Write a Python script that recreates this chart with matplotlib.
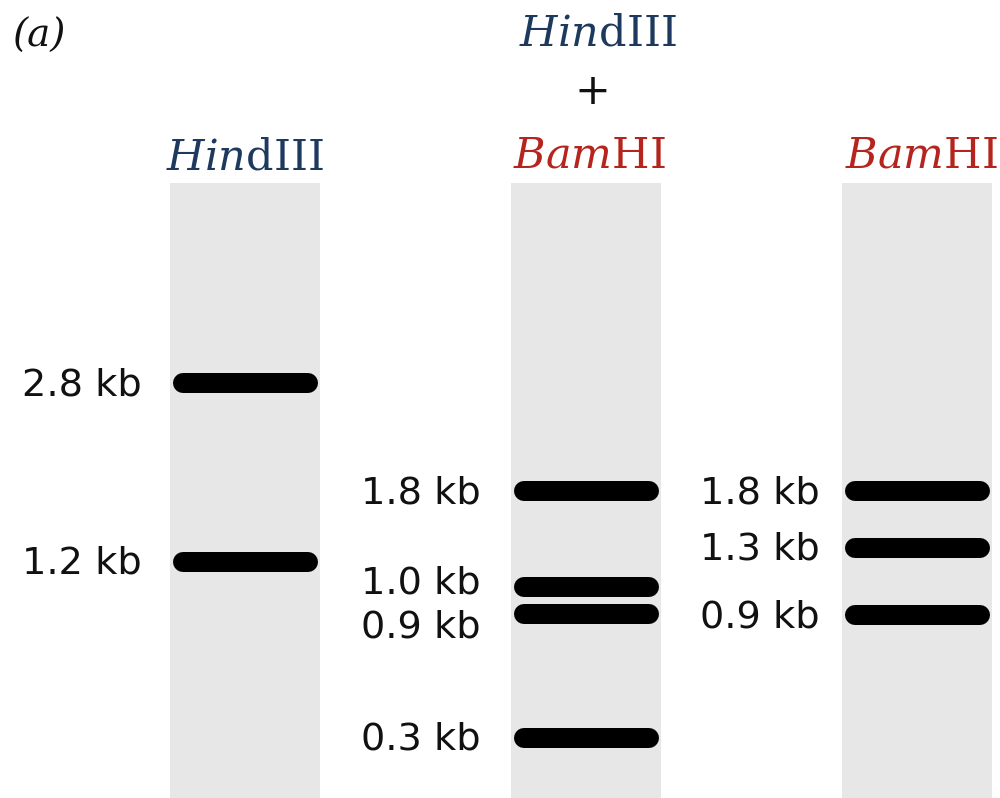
import matplotlib
matplotlib.use("Agg")
import matplotlib.pyplot as plt

# --- Gel data ---
lane_names = ["HindIII", "HindIII + BamHI", "BamHI"]
lane1_sizes = [2.8, 1.2]
lane1_migration = [200, 379]          # px from the well
lane2_sizes = [1.8, 1.0, 0.9, 0.3]
lane2_migration = [308, 404, 431, 555]
lane3_sizes = [1.8, 1.3, 0.9]
lane3_migration = [308, 365, 432]

# --- layout ---
W, H = 1000, 798
well_y = 183
lane_centers = [245, 586, 917]
lane_w = 150
band_lw_px = 20
gel_color = "#e7e7e7"
blue = "#1d3a5e"
red = "#b5251d"
label_gap = [28, 30, 22]
# nudges so that close labels don't overlap
label_nudge = {(1, 1.0): -6, (1, 0.9): 12}

plt.rcParams["mathtext.fontset"] = "dejavuserif"

fig = plt.figure(figsize=(W / 100, H / 100), dpi=100)
ax = fig.add_axes([0, 0, 1, 1])
ax.set_xlim(0, W)
ax.set_ylim(H, 0)
ax.axis("off")

px2pt = 72 / 100
lanes = [(lane1_sizes, lane1_migration), (lane2_sizes, lane2_migration), (lane3_sizes, lane3_migration)]
for i, (sizes, mig) in enumerate(lanes):
    cx = lane_centers[i]
    ax.add_patch(plt.Rectangle((cx - lane_w / 2, well_y), lane_w, H - well_y,
                               color=gel_color, lw=0, zorder=1))
    x0 = cx - lane_w / 2 + 3 + band_lw_px / 2
    x1 = cx + lane_w / 2 - 2 - band_lw_px / 2
    for s, m in zip(sizes, mig):
        y = well_y + m
        ax.plot([x0, x1], [y, y], color="black", lw=band_lw_px * px2pt,
                solid_capstyle="round", zorder=2)
        ly = y + 2 + label_nudge.get((i, s), 0)
        ax.text(cx - lane_w / 2 - label_gap[i], ly, f"{s:.1f} kb", ha="right", va="center",
                fontsize=27.5, family="DejaVu Sans", color="#111111")

hind = r"$\mathit{Hin}$dIII"
bam = r"$\mathit{Bam}$HI"
tkw = dict(ha="center", va="baseline", fontsize=31, family="DejaVu Serif")
ax.text(lane_centers[0], 170, hind, color=blue, **tkw)
ax.text(lane_centers[1] + 12, 45, hind, color=blue, **tkw)
ax.text(lane_centers[1] + 6, 92, "+", ha="center", va="center", fontsize=31,
        family="DejaVu Sans", color="#111111")
ax.text(lane_centers[1] + 3, 167, bam, color=red, **tkw)
ax.text(lane_centers[2] + 4, 167, bam, color=red, **tkw)

ax.text(12, 47, "(a)", ha="left", va="baseline", fontsize=28,
        family="DejaVu Serif", style="italic", color="#111111")

fig.savefig("out.png", dpi=100, facecolor="white")
